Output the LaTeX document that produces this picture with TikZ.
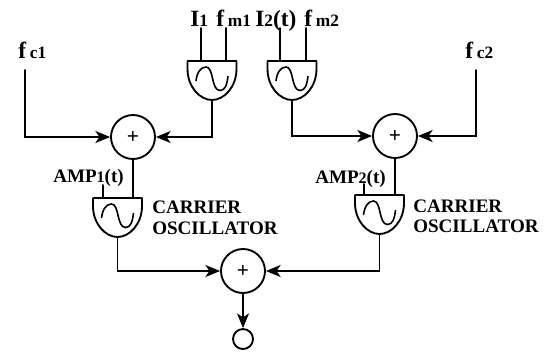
\documentclass[tikz,border=0pt]{standalone}
\usepackage{fontspec}
\setmainfont{Liberation Serif}
\usetikzlibrary{arrows.meta}
\newcommand{\sm}[1]{{\fontsize{12}{12}\selectfont #1}}
\newcommand{\smt}[1]{{\fontsize{13}{13}\selectfont #1}}
\tikzset{
  x=0.75pt,y=-0.75pt,
  wire/.style={line width=1.4pt,line cap=round,line join=miter},
  arrowwire/.style={wire,-{Stealth[length=11pt,width=9pt,inset=3pt]},shorten >=0pt},
  sumnode/.style={circle,draw,line width=1.4pt,minimum size=33pt,inner sep=0pt,font=\fontsize{16}{16}\selectfont\bfseries},
  outnode/.style={circle,draw,line width=1.4pt,minimum size=15pt,inner sep=0pt},
  lbl/.style={inner sep=0pt,anchor=base west,font=\fontsize{14.3}{16}\selectfont\bfseries},
  toplbl/.style={inner sep=0pt,anchor=base west,font=\fontsize{17.5}{18}\selectfont\bfseries},
  pics/osc/.style={code={
    \draw[wire,line join=round] (-24.5,0) -- (24.5,0) -- (24.5,8) .. controls (24.5,26) and (12,39) .. (0,39) .. controls (-12,39) and (-24.5,26) .. (-24.5,8) -- cycle;
    \draw[line width=1.2pt] (-16,20) .. controls (-15,11) and (-11,6) .. (-6,6) .. controls (2,6) and (-1,29.5) .. (8,29.5) .. controls (13,29.5) and (15,24) .. (16,15);
    \coordinate (-out) at (0,39);
  }}
}
\begin{document}
\begin{tikzpicture}
\useasboundingbox (0,0) rectangle (548,351);
% summing nodes
\node[sumnode] (s1) at (133,137) {+};
\node[sumnode] (s2) at (395,136) {+};
\node[sumnode] (s3) at (243,271) {+};
\node[outnode] (out) at (243,339) {};
% oscillators
\pic (m1) at (212,61) {osc};
\pic (m2) at (292,61) {osc};
\pic (c1) at (117.5,198) {osc};
\pic (c2) at (379.5,195) {osc};
% labels
\node[toplbl] (li1) at (190,26) {I\smt{1}};
\node[toplbl] (lf1) at (216,26) {f\,\smt{m1}};
\node[toplbl] (li2) at (255,26) {I\smt{2}(t)};
\node[toplbl] (lf2) at (304,26) {f\,\smt{m2}};
\node[toplbl] (fc1) at (18,58) {f\,\smt{c1}};
\node[toplbl] (fc2) at (465,58) {f\,\smt{c2}};
\node[lbl] (a1) at (53,182) {AMP\sm{1}(t)};
\node[lbl] (a2) at (315,183) {AMP\sm{2}(t)};
\node[lbl] (ca1) at (152,213) {CARRIER};
\node[lbl] (os1) at (152,234) {OSCILLATOR};
\node[lbl] (ca2) at (413,212) {CARRIER};
\node[lbl] (os2) at (413,232) {OSCILLATOR};
% named free ends
\coordinate (i1) at (201,28);
\coordinate (f1) at (226,28);
\coordinate (i2) at (280,28);
\coordinate (f2) at (306,28);
\coordinate (fc1e) at (25,70);
\coordinate (fc2e) at (476,70);
\coordinate (a1e) at (103,185);
\coordinate (a2e) at (364,184);
% connectors
\draw[wire] (i1) -- (201,61);
\draw[wire] (f1) -- (226,61);
\draw[wire] (i2) -- (280,61);
\draw[wire] (f2) -- (306,61);
\draw[arrowwire] (m1-out) |- (s1.east);
\draw[arrowwire] (m2-out) |- (s2.west);
\draw[arrowwire] (fc1e) |- (s1.west);
\draw[arrowwire] (fc2e) |- (s2.east);
\draw[wire] (s1.south) -- (133,198);
\draw[wire] (s2.south) -- (395,195);
\draw[wire] (a1e) -- (103,198);
\draw[wire] (a2e) -- (364,195);
\draw[arrowwire] (c1-out) |- (s3.west);
\draw[arrowwire] (c2-out) |- (s3.east);
\draw[arrowwire] (s3.south) -- (out.north);
\end{tikzpicture}
\end{document}
